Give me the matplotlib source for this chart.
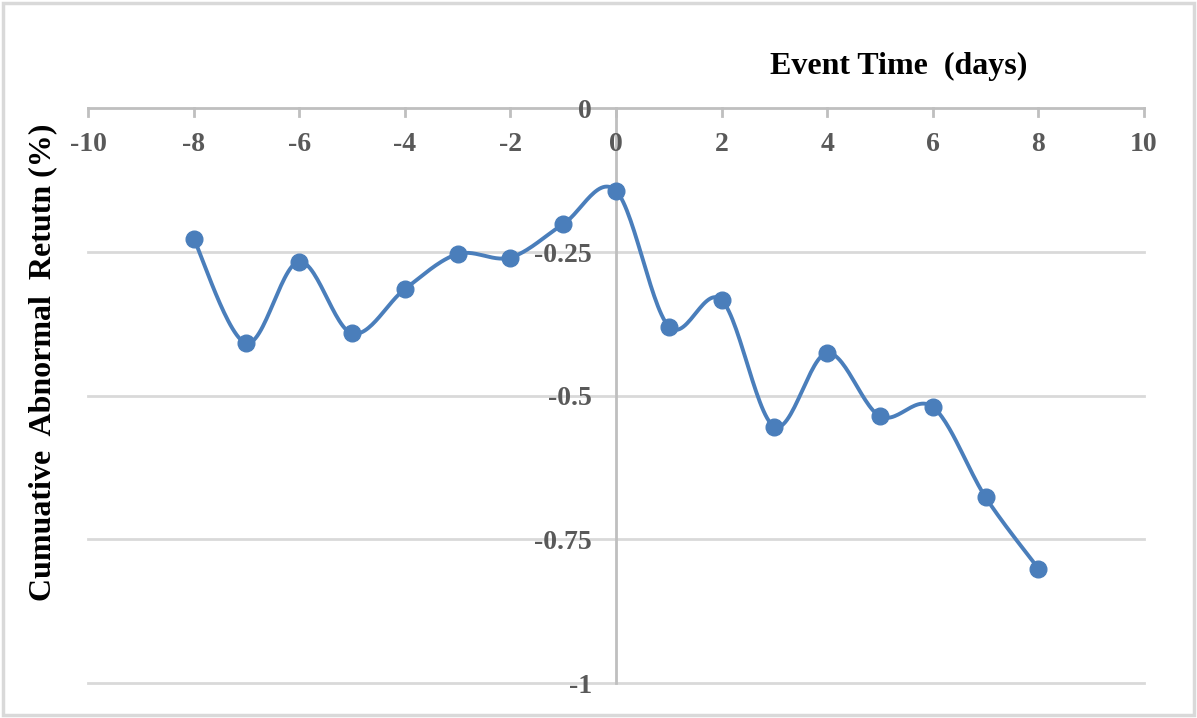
import numpy as np
import matplotlib
matplotlib.use("Agg")
import matplotlib.pyplot as plt
from matplotlib.patches import Rectangle

# event days and cumulative abnormal return (%)
days = [-8, -7, -6, -5, -4, -3, -2, -1, 0, 1, 2, 3, 4, 5, 6, 7, 8]
car = [-0.227, -0.409, -0.267, -0.392, -0.315, -0.254, -0.260, -0.202, -0.144,
       -0.380, -0.334, -0.554, -0.426, -0.536, -0.520, -0.677, -0.801]

x_ticks = [-10, -8, -6, -4, -2, 0, 2, 4, 6, 8, 10]
y_ticks = [0, -0.25, -0.5, -0.75, -1]
y_tick_labels = ["0", "-0.25", "-0.5", "-0.75", "-1"]

blue = "#4a7ebb"
grid_col = "#d9d9d9"
axis_col = "#bfbfbf"
tick_col = "#595959"
font = "Liberation Serif"


def smooth(x, y, n=30):
    # Excel-style smoothed line: cubic Bezier through the points (Catmull-Rom)
    p = np.column_stack([x, y]).astype(float)
    p = np.vstack([p[0], p, p[-1]])
    xs, ys = [], []
    t = np.linspace(0, 1, n)[:, None]
    for i in range(1, len(p) - 2):
        p0, p1, p2, p3 = p[i - 1], p[i], p[i + 1], p[i + 2]
        c1 = p1 + (p2 - p0) / 6
        c2 = p2 - (p3 - p1) / 6
        b = ((1 - t) ** 3 * p1 + 3 * (1 - t) ** 2 * t * c1
             + 3 * (1 - t) * t ** 2 * c2 + t ** 3 * p2)
        xs.extend(b[:, 0])
        ys.extend(b[:, 1])
    return xs, ys


fig = plt.figure(figsize=(11.97, 7.18), dpi=100)
ax = fig.add_axes([88 / 1197, 1 - 683 / 718, (1144 - 88) / 1197, (683 - 108) / 718])

ax.set_xlim(-10, 10)
ax.set_ylim(-1, 0)

for yv in y_ticks[1:]:
    ax.axhline(yv, color=grid_col, lw=2, zorder=1, clip_on=False)
ax.axvline(0, color=axis_col, lw=2, zorder=1, clip_on=False)
ax.axhline(0, color=axis_col, lw=2, zorder=1, clip_on=False)
for xv in x_ticks:
    ax.plot([xv, xv], [0, -0.014], color=axis_col, lw=2, zorder=1, clip_on=False)

sx, sy = smooth(days, car)
ax.plot(sx, sy, color=blue, lw=2.8, zorder=3, solid_capstyle="round")
ax.plot(days, car, "o", color=blue, ms=12, zorder=4)

for s in ax.spines.values():
    s.set_visible(False)
ax.set_xticks([])
ax.set_yticks([])

for xv in x_ticks:
    ax.text(xv, -0.064, str(xv), ha="center", va="center", fontsize=20,
            fontweight="bold", color=tick_col, family=font)
for yv, lab in zip(y_ticks, y_tick_labels):
    ax.text(-0.45, yv - 0.006, lab, ha="right", va="center", fontsize=20,
            fontweight="bold", color=tick_col, family=font)

fig.text(899 / 1197, 1 - 66 / 718, "Event Time  (days)", ha="center", va="center",
         fontsize=23, fontweight="bold", family=font)
fig.text(43 / 1197, 1 - 362 / 718, "Cumuative  Abnormal  Retutn (%)", ha="center",
         va="center", rotation=90, fontsize=23, fontweight="bold", family=font)

fig.patches.append(Rectangle((3 / 1197, 3 / 718), 1191 / 1197, 712 / 718,
                             transform=fig.transFigure, fill=False,
                             edgecolor=grid_col, lw=2.5))

fig.savefig("out.png", dpi=100)
